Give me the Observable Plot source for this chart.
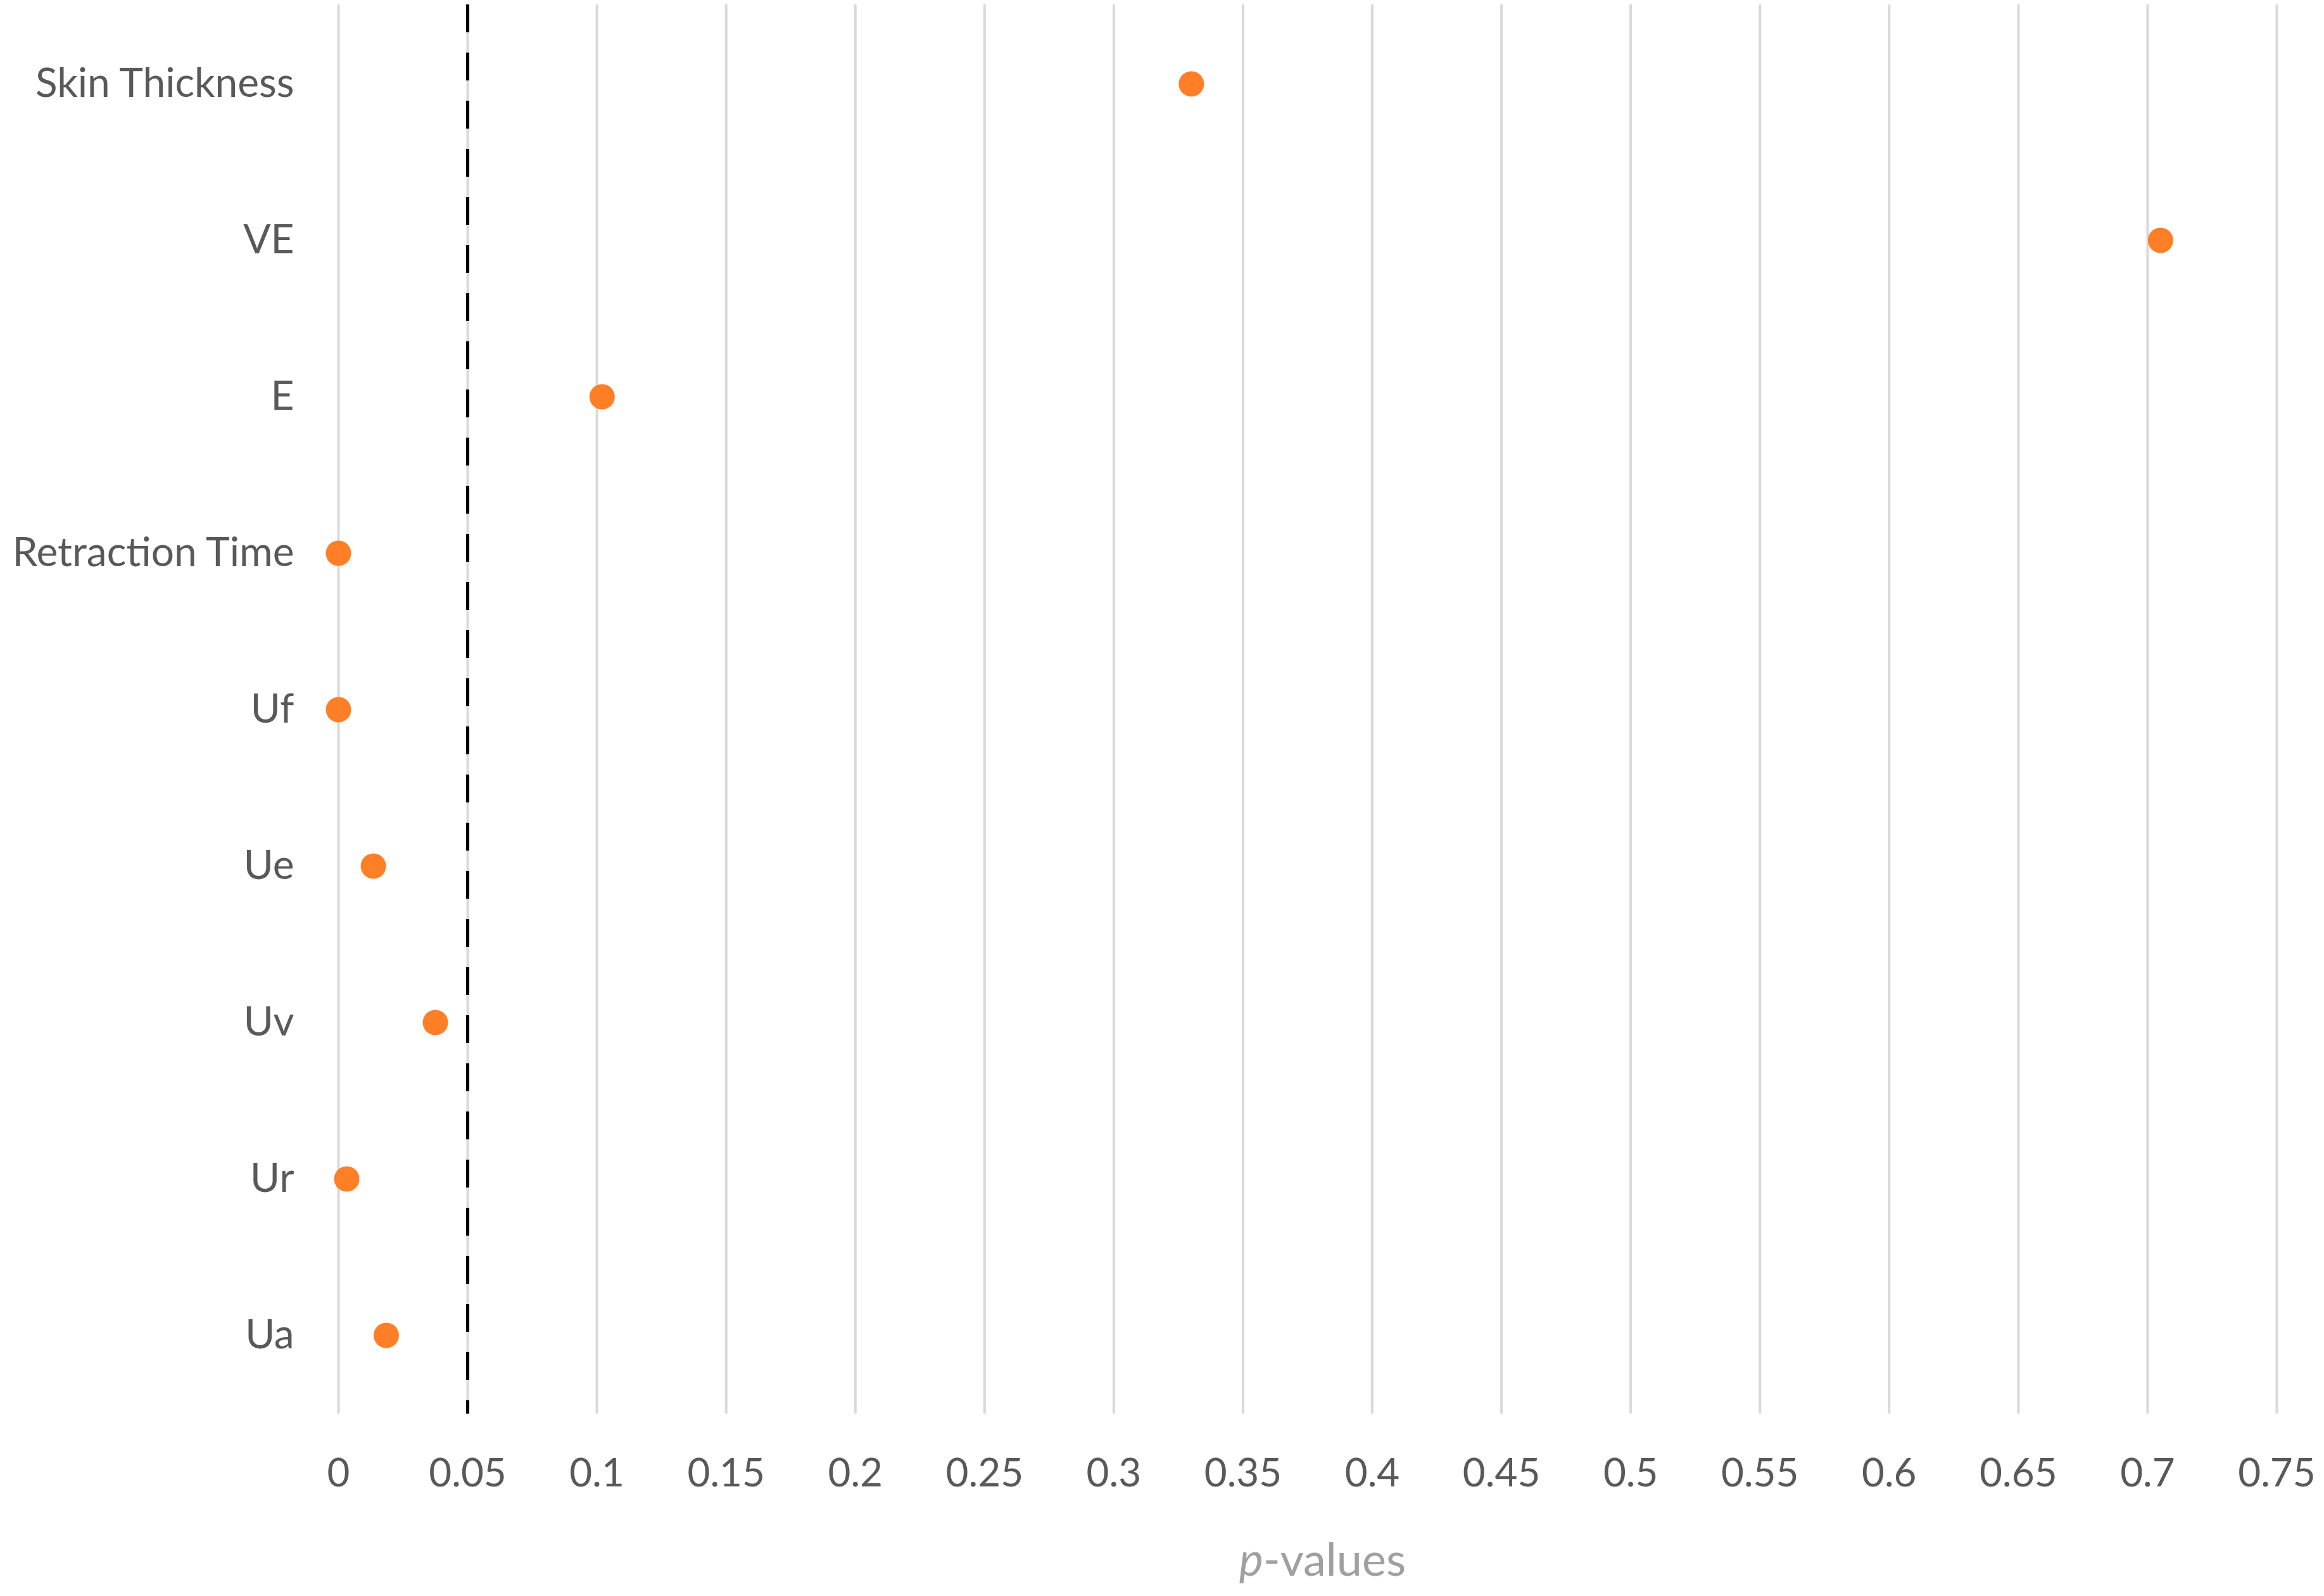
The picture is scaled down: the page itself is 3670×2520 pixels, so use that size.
<!DOCTYPE html>
<html>
<head>
<meta charset="utf-8">
<script src="https://cdn.jsdelivr.net/npm/d3@7"></script>
<script src="https://cdn.jsdelivr.net/npm/@observablehq/plot@0.6"></script>
<style>
  html, body { margin: 0; padding: 0; background: #ffffff; }
</style>
</head>
<body>
<div id="chart"></div>
<script>
// ---- data ----
const categories = ["Skin Thickness", "VE", "E", "Retraction Time", "Uf", "Ue", "Uv", "Ur", "Ua"];
const pValues = [0.330, 0.705, 0.102, 0.000, 0.000, 0.0135, 0.0375, 0.0032, 0.0185];
const xTicks = [0, 0.05, 0.1, 0.15, 0.2, 0.25, 0.3, 0.35, 0.4, 0.45, 0.5, 0.55, 0.6, 0.65, 0.7, 0.75];
const threshold = [0.05];
const xTitleItalic = "p";
const xTitleRest = "-values";

const data = categories.map((c, i) => ({variable: c, p: pValues[i]}));

const chart = Plot.plot({
  width: 3670,
  height: 2520,
  marginLeft: 534,
  marginRight: 75,
  marginTop: 7,
  marginBottom: 288,
  style: {fontFamily: "Lato, 'Open Sans', sans-serif", color: "#595959", background: "#ffffff"},
  x: {domain: [0, 0.75], label: null},
  y: {domain: categories, label: null, padding: 0.5},
  marks: [
    Plot.gridX(xTicks, {stroke: "#D9D9D9", strokeOpacity: 1, strokeWidth: 4}),
    Plot.ruleX(threshold, {stroke: "#000000", strokeWidth: 5, strokeDasharray: "44,32"}),
    Plot.dot(data, {x: "p", y: "variable", r: 20, fill: "#FF7F27", stroke: "none"}),
    Plot.axisX(xTicks, {tickSize: 0, tickPadding: 70, fontSize: 62, label: null, tickFormat: d => String(d), fill: "#595959"}),
    Plot.axisY(categories, {tickSize: 0, tickPadding: 70, fontSize: 64, label: null, fill: "#595959"})
  ]
});

document.getElementById("chart").appendChild(chart);

// x-axis title with italic "p", centred on the plot area
const xs = chart.scale("x");
const cx = (xs.range[0] + xs.range[1]) / 2 + 24;
const svg = d3.select(chart);
const t = svg.append("text")
  .attr("x", cx)
  .attr("y", 2520 - 32)
  .attr("text-anchor", "middle")
  .attr("font-family", "Lato, 'Open Sans', sans-serif")
  .attr("font-size", 72)
  .attr("fill", "#A0A0A0");
t.append("tspan").attr("font-style", "italic").text(xTitleItalic);
t.append("tspan").text(xTitleRest);
</script>
</body>
</html>
